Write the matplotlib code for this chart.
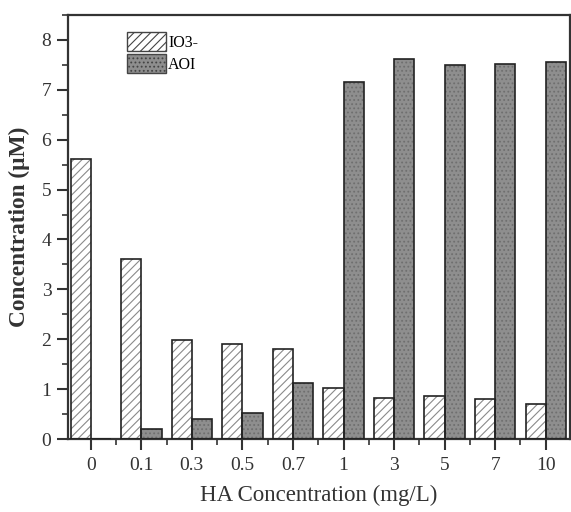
import matplotlib
matplotlib.use('Agg')
import matplotlib.pyplot as plt
import numpy as np
from matplotlib.ticker import MultipleLocator, FixedLocator
from matplotlib.patches import Patch

plt.rcParams['font.family'] = ['Liberation Serif', 'DejaVu Serif']
plt.rcParams['hatch.linewidth'] = 0.8

# data
categories = ['0', '0.1', '0.3', '0.5', '0.7', '1', '3', '5', '7', '10']
io3 = [5.62, 3.60, 1.98, 1.91, 1.81, 1.03, 0.82, 0.86, 0.81, 0.70]
aoi = [0.0, 0.21, 0.41, 0.52, 1.13, 7.15, 7.62, 7.50, 7.52, 7.55]

x = np.arange(len(categories))
w = 0.4

fig = plt.figure(figsize=(5.71, 5.12), dpi=100)
ax = fig.add_axes([68 / 571, 1 - 439 / 512, 502 / 571, 424 / 512])

# hatch layer (grey lines), then black outline on top
ax.bar(x - w / 2, io3, w, facecolor='white', edgecolor='#8a8a8a', hatch='////', linewidth=0, zorder=2)
ax.bar(x - w / 2, io3, w, facecolor='none', edgecolor='#222222', linewidth=1.2, zorder=3)
ax.bar(x + w / 2, aoi, w, facecolor='#8e8e8e', edgecolor='#6f6f6f', hatch='....', linewidth=0, zorder=2)
ax.bar(x + w / 2, aoi, w, facecolor='none', edgecolor='#222222', linewidth=1.2, zorder=3)

# legend proxies
h1 = Patch(facecolor='white', edgecolor='#444444', hatch='////', label='IO3-')
h2 = Patch(facecolor='#8e8e8e', edgecolor='#444444', hatch='....', label='AOI')
ax.legend(handles=[h1, h2], loc='upper left', bbox_to_anchor=(0.115, 0.963), frameon=False,
          fontsize=11.5, handlelength=2.4, handleheight=1.45, handletextpad=0.15, labelspacing=0.2,
          borderaxespad=0.0, borderpad=0.1)

ax.set_xlim(-0.45, 9.48)
ax.set_ylim(0, 8.5)
ax.set_xticks(x)
ax.set_xticklabels(categories)
ax.xaxis.set_minor_locator(FixedLocator(x[:-1] + 0.5))
ax.yaxis.set_major_locator(MultipleLocator(1))
ax.yaxis.set_minor_locator(MultipleLocator(0.5))
ax.tick_params(which='major', direction='out', length=8, width=1.5, labelsize=14, colors='#333333', labelcolor='#333333')
ax.tick_params(which='minor', direction='out', length=4, width=1.2, colors='#333333')
ax.tick_params(axis='x', which='major', pad=5)
ax.tick_params(axis='y', which='major', pad=4)

for s in ax.spines.values():
    s.set_linewidth(1.6)
    s.set_color('#333333')

ax.set_xlabel('HA Concentration (mg/L)', fontsize=16.5, labelpad=8, color='#333333')
ax.set_ylabel('Concentration (\u03bcM)', fontsize=16.8, fontweight='bold', labelpad=8, color='#333333')

fig.savefig('out.png', dpi=100)
